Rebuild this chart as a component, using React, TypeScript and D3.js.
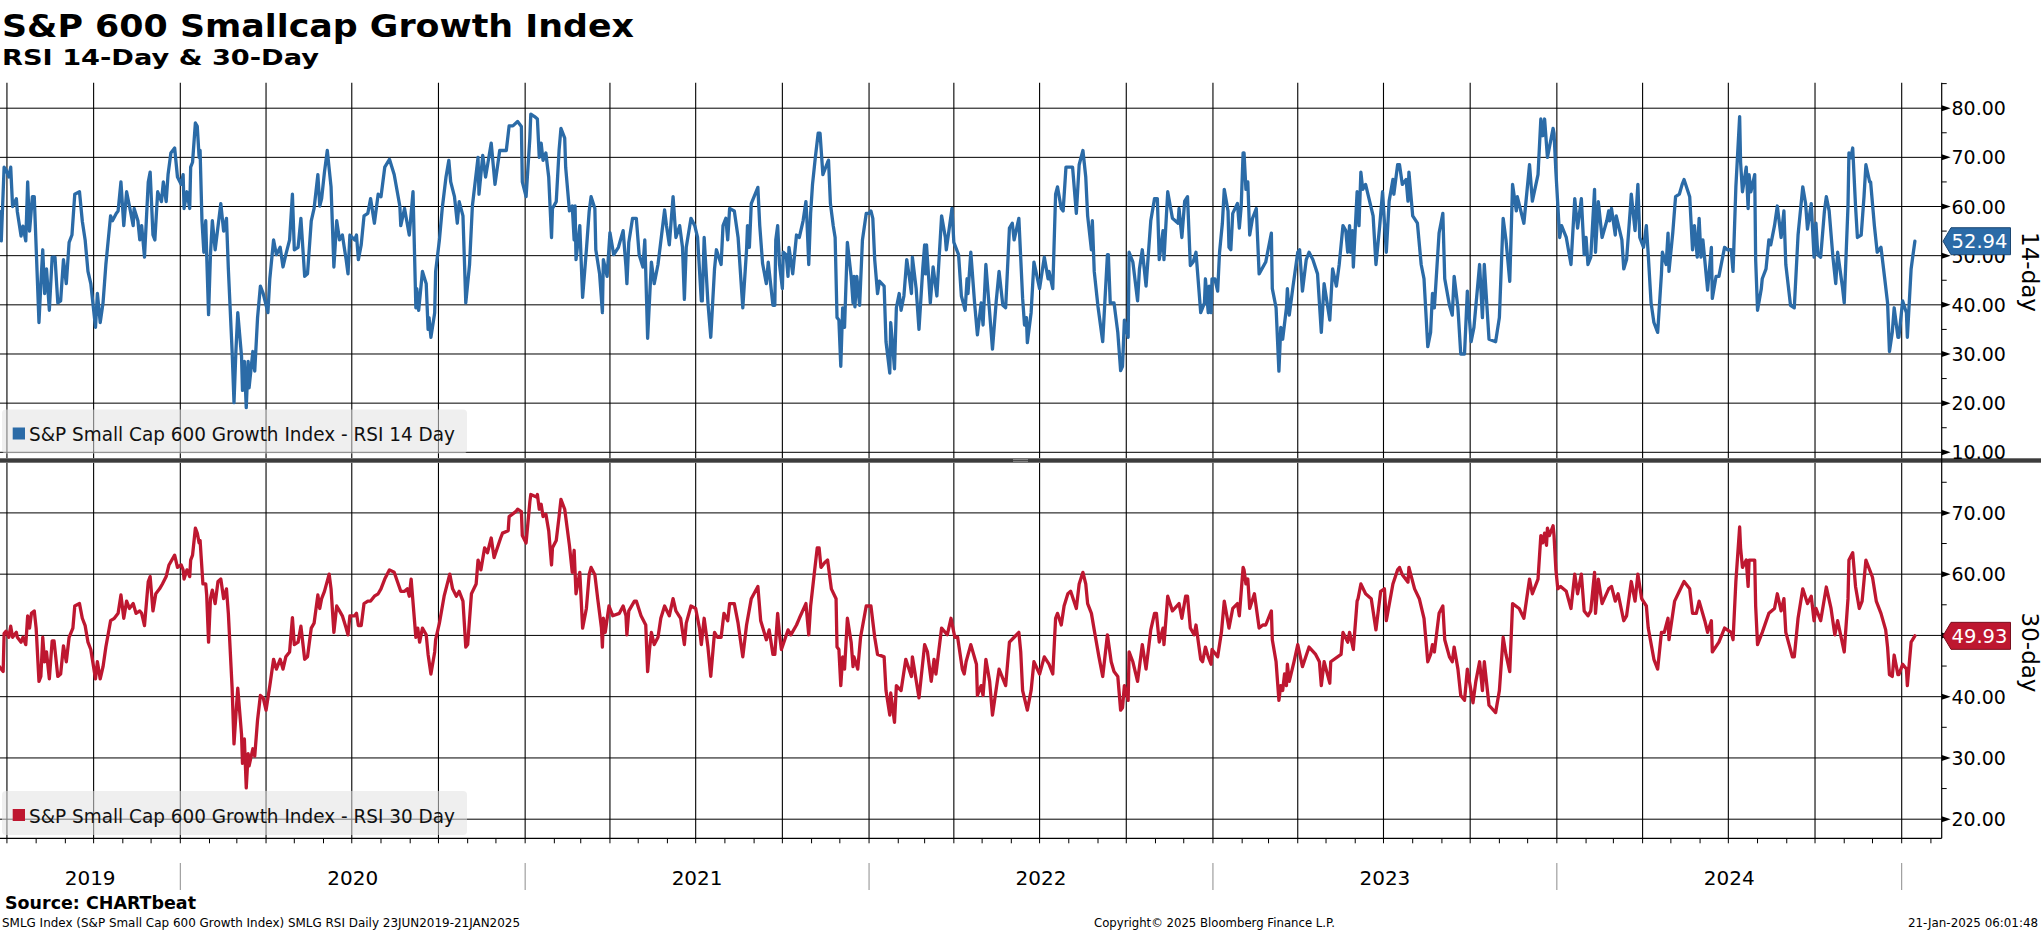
import React from 'react';
import * as d3 from 'd3';

// ---------- DATA (day offset from 23 Jun 2019, RSI value) ----------
const START = new Date(2019, 5, 23);

const rsi14: [number, number][] = [
  [0,59],[2,53],[5,68],[7,67.5],[10,66],[12,68],[14,60],[18,61.6],[19,59],[23,54],[25,56],[28,53],[30,65],[32,55],[35,62],[37,62],[42,36.4],[44,44.3],[46,51.2],[48,42.3],[50,47.3],[53,38.9],[56,49.7],[59,49.7],[62,40.4],[65,40.8],[68,49.2],[71,44.3],[74,52.7],[77,54.2],[80,62.5],[85,63],[88,57],[91,53.2],[94,46.8],[97,44.3],[102,35.4],[104,42.3],[107,36.4],[110,40.4],[113,48.2],[118,58.1],[120,57.1],[124,58.6],[126,59.1],[129,65],[132,56.1],[135,63],[138,60.1],[142,56.1],[143,59.6],[147,57.1],[149,53.2],[151,56.1],[154,49.7],[158,65],[160,67],[163,54.2],[165,53.2],[168,63],[172,61],[174,65],[177,61],[179,66.5],[182,70.9],[186,71.9],[189,66],[193,64.5],[195,66.5],[196,59.6],[199,63],[202,59.6],[203,68],[205,69],[208,77],[210,76.3],[212,70],[213,71.4],[215,57.1],[217,50.7],[219,57.1],[220,50.2],[222,38],[224,50.2],[226,57.1],[229,51.2],[235,60.6],[238,55],[241,57.6],[243,47.3],[247,30.5],[249,20.1],[251,30.5],[253,38.4],[257,29.5],[258,22.6],[260,28.5],[262,19.1],[264,28.5],[265,23.1],[269,30.5],[271,26.5],[274,37.4],[277,43.8],[280,42.3],[285,38.4],[287,45.3],[291,53.2],[294,50.2],[298,51.7],[301,47.7],[304,50.2],[308,53.2],[311,62.5],[313,51.2],[317,51.7],[320,57.6],[324,45.8],[327,46.3],[331,57.1],[334,59.6],[338,66.5],[340,60.1],[342,61.6],[345,67],[348,71.4],[352,64],[355,47.7],[358,57.1],[361,53.2],[364,54.2],[368,49.2],[370,46.3],[372,54.2],[377,53.2],[379,54.2],[381,49.2],[384,52.2],[387,58.1],[391,58.6],[394,61.6],[398,56.6],[402,62.5],[405,62],[409,68],[414,69.6],
  [419,66.5],[425,60.1],[426,56.1],[430,59.6],[435,54.2],[439,63],[442,39.4],[443,43.3],[445,38.9],[449,46.8],[453,44.3],[455,35],[456,37.4],[458,33.4],[462,38.4],[463,46.8],[467,53.2],[470,59.6],[474,66],[477,69.4],[479,65],[483,62],[486,56.6],[488,61],[492,58.1],[495,40.4],[499,48.2],[502,60.1],[508,70],[509,62.5],[513,70.4],[516,66],[522,72.9],[526,64.5],[531,71.4],[538,71.4],[541,76.4],[545,76.4],[550,77.3],[554,76.3],[555,65],[559,62],[563,73.9],[564,78.8],[568,78.3],[571,77.8],[573,70],[575,72.9],[577,69.4],[580,70.9],[583,66],[586,53.7],[587,59.6],[591,61],[594,71.4],[596,75.9],[600,73.9],[601,68],[605,59.1],[608,60.1],[610,53.2],[611,60.1],[612,49.2],[616,56.1],[619,41.5],[623,51.2],[626,59.1],[628,62],[632,59.6],[633,51.2],[637,46.3],[640,38.4],[641,49.2],[645,45.8],[648,54.7],[652,50.2],[657,51.7],[662,55.1],[665,47.7],[666,44.3],[668,52.7],[672,57.6],[676,57.6],[679,50.2],[683,47.7],[685,53.2],[686,46.8],[688,33.2],[692,48.7],[695,44.3],[699,48.2],[704,56.1],[706,59.3],[708,56.1],[711,52.2],[715,62],[718,53.7],[722,56.1],[725,51.7],[727,41.1],[729,51.7],[734,57.6],[738,56.1],[741,53.7],[745,40.8],[746,40.8],[748,53.7],[752,40.4],[755,33.4],[759,47.3],[761,51.2],[766,48.2],[768,56.1],[771,57.6],[773,53.2],[775,59.6],[780,59.1],[784,53.7],[789,39.4],[793,51.2],[794,56.1],[796,51.7],[798,60.6],[805,63.9],[807,56.1],[810,48.4],[814,44.3],[816,48.7],[821,39.9],[823,39.9],[824,53.2],[826,56.1],[828,48.2],
  [831,43.3],[832,50.7],[835,50.2],[837,45.8],[838,51.7],[842,46.3],[846,54.2],[849,53.7],[853,57.1],[856,61],[857,57.6],[859,48.2],[861,58.6],[863,64.5],[866,70],[869,74.9],[871,74.9],[874,66.5],[879,69],[880,69.4],[882,60.6],[885,56.1],[887,53.7],[889,37.4],[891,36.9],[893,27.5],[895,39.4],[897,35.4],[900,52.7],[904,45.8],[906,40.4],[907,45.8],[908,39.6],[910,45.8],[913,39.9],[916,53.2],[920,58.6],[923,58.6],[925,59.1],[927,57.6],[929,49.2],[932,42.3],[934,44.8],[939,43.8],[941,32.5],[945,26.1],[946,36.4],[950,27],[952,39.4],[955,42.3],[957,38.9],[960,41.8],[963,49.2],[966,45.3],[968,42.3],[969,49.7],[973,43.3],[976,35],[980,47.3],[982,52.2],[983,46.3],[984,52.2],[988,40.4],[991,47.7],[995,41.8],[1000,58.1],[1004,53.7],[1005,51.2],[1011,59.6],[1013,52.7],[1018,50.2],[1021,41.8],[1025,38.9],[1027,45.3],[1028,42.3],[1031,50.7],[1035,40.4],[1038,33.9],[1042,40.4],[1044,35.9],[1047,48.2],[1051,38.4],[1054,31],[1058,40.8],[1061,46.8],[1065,39.9],[1068,39.4],[1072,55.6],[1075,56.6],[1077,53.2],[1082,57.6],[1086,41.3],[1088,35.9],[1090,37.4],[1091,32.3],[1095,38.4],[1098,48.7],[1104,43.3],[1109,49.7],[1113,45.3],[1114,46.8],[1118,43.3],[1121,62.5],[1123,64],[1127,59.6],[1129,59.1],[1132,68],[1136,68],[1139,68],[1143,58.6],[1146,68.5],[1150,71.4],[1153,66],[1155,58.1],[1159,51.2],[1160,57.1],[1162,46.8],[1166,39.6],[1171,32.5],[1176,50.2],[1177,50.2],[1179,40.4],[1183,40.4],[1187,34.4],[1190,26.6],[1192,27.5],[1194,36.9],[1198,33.4],[1199,50.7],[1203,48.7],[1208,40.8],[1210,47.3],[1213,51.2],[1217,43.8],[1222,57.1],[1226,61.6],[1229,61.6],[1231,49.2],[1235,55.1],[1236,49.2],[1240,63],
  [1245,57.6],[1251,56.6],[1252,59.6],[1255,53.7],[1258,61.1],[1261,62],[1264,48],[1267,48.7],[1270,50.7],[1275,38.4],[1279,40.4],[1280,45.3],[1283,38.4],[1284,43.8],[1286,38.4],[1287,45.3],[1290,45.3],[1293,42.8],[1295,50.7],[1298,56.6],[1300,63.5],[1304,59.1],[1305,51.7],[1307,51.2],[1309,58.6],[1314,60.6],[1316,55.6],[1318,60.1],[1320,70.9],[1321,70.9],[1323,63.5],[1325,65],[1327,54.2],[1330,57.6],[1334,59.6],[1337,46.3],[1344,48.7],[1350,54.6],[1351,43.3],[1355,39.4],[1358,26.5],[1360,35.4],[1362,33],[1366,39.4],[1367,43.3],[1369,37.9],[1373,43.8],[1378,50.7],[1380,51.2],[1383,42.8],[1387,49.2],[1390,50.7],[1394,49.2],[1399,46.3],[1403,34.4],[1406,44.3],[1412,36.9],[1415,47.3],[1419,43.8],[1422,48.2],[1426,56.1],[1429,55.1],[1431,50.7],[1433,56.1],[1434,50.7],[1436,55.1],[1437,47.7],[1441,63],[1443,56.1],[1445,67],[1447,63.5],[1450,64.5],[1458,58.1],[1461,48.2],[1465,56.1],[1468,63],[1472,50.7],[1475,61.1],[1479,65.5],[1480,62.5],[1484,68.5],[1486,68.5],[1489,64.5],[1493,65.5],[1495,61.1],[1496,67],[1500,58.1],[1505,56.6],[1509,48.2],[1512,45.3],[1516,31.5],[1519,34.4],[1521,42.3],[1523,39.4],[1528,54.6],[1532,58.6],[1534,45.3],[1539,39.9],[1542,37.9],[1544,45.8],[1548,39.4],[1551,30],[1555,30],[1558,42.8],[1562,32.5],[1565,35.4],[1571,48.2],[1574,37.4],[1576,48.2],[1581,33],[1588,32.5],[1592,37.4],[1596,57.6],[1599,53.2],[1603,44.8],[1606,64.5],[1610,59.1],[1611,62],[1618,56.6],[1624,68.5],[1627,61.1],[1633,66.5],[1636,77.8],[1638,74.4],[1640,77.8],[1643,70],[1649,75.9],[1650,74.9],[1652,67],[1656,53.7],
  [1658,56.1],[1663,53.7],[1668,48.2],[1672,61.6],[1675,55.6],[1679,61.6],[1682,50.2],[1684,53.7],[1686,48.2],[1689,49.7],[1693,63.5],[1694,50.7],[1697,61],[1701,53.7],[1706,57.1],[1708,59.1],[1709,57.1],[1711,59.6],[1715,54.2],[1716,58.1],[1722,53.2],[1724,47.3],[1727,49.2],[1731,59.6],[1732,62.5],[1736,55.1],[1739,64.5],[1741,53.7],[1745,51.7],[1747,54.6],[1748,56.1],[1750,50.2],[1753,40.4],[1756,36.4],[1760,34.4],[1764,46.3],[1765,50.7],[1769,48.2],[1771,54.6],[1772,46.8],[1776,54.6],[1779,62],[1783,62.5],[1786,64.5],[1788,65.5],[1794,62],[1797,51.2],[1799,56.1],[1802,49.7],[1804,57.6],[1806,49.7],[1808,53.2],[1813,43],[1817,51.7],[1818,41.3],[1822,45.8],[1825,45.8],[1831,51.7],[1834,51.2],[1838,51.2],[1840,46.8],[1843,64],[1847,78.3],[1848,69],[1850,63],[1854,68],[1856,59.6],[1857,66.5],[1859,63],[1863,66.5],[1864,49.2],[1866,38.9],[1870,43.3],[1871,45.3],[1875,47.3],[1878,53.2],[1880,52.2],[1884,56.1],[1887,60.1],[1891,53.7],[1894,59.1],[1896,48.2],[1901,39.9],[1905,39.4],[1909,54.2],[1914,64],[1917,60.6],[1919,55.4],[1923,60.6],[1926,49.7],[1928,56.6],[1930,50.2],[1933,49.7],[1937,59.1],[1939,62],[1942,59.1],[1946,49.7],[1949,44.3],[1951,50.7],[1956,43.8],[1958,40.4],[1962,60.1],[1963,70.9],[1965,69.9],[1967,71.9],[1970,60.1],[1972,53.7],[1976,54.2],[1979,62],[1981,68.5],[1985,65],[1986,65],[1990,56.1],[1993,50.7],[1997,51.7],[2001,45.3],[2004,40.4],[2006,30.5],[2009,34.4],[2011,39.4],[2015,33.4],[2016,33.4],[2020,40.8],[2024,38.4],[2025,33.4],[2029,47.3],[2031,50.2],[2033,52.94],
];

const rsi30: [number, number][] = [
  [0,44.9],[4,44.1],[5,50.3],[7,50.7],[10,49.7],[12,51.5],[14,49.7],[18,50.5],[19,49.7],[23,48.9],[25,49.7],[28,48.5],[30,53.2],[32,51.2],[34,53.6],[37,54],[39,51.2],[42,42.5],[44,43.3],[46,49.7],[48,45.7],[50,47.3],[53,42.9],[56,49.1],[58,49.1],[62,43.3],[65,43.7],[68,48.3],[71,45.7],[74,49.7],[78,51.2],[80,54.8],[85,55.2],[88,52.8],[91,51.6],[94,48.9],[97,47.7],[102,42.9],[104,45.7],[107,42.9],[110,44.9],[113,48.1],[118,52.4],[122,52.8],[126,53.6],[129,56.6],[132,52.8],[135,55.6],[138,54.4],[142,55.2],[145,53.6],[149,54],[151,53.6],[154,51.6],[158,58.8],[160,59.6],[163,54],[166,56.8],[170,57.6],[173,58.4],[177,59.6],[180,61.5],[186,63.1],[189,61.1],[193,61.5],[195,60.7],[196,59.2],[199,60.7],[202,59.6],[203,62.3],[205,63.1],[208,67.5],[210,66.7],[212,65.1],[213,65.5],[216,58.4],[219,58.4],[220,56.6],[222,48.9],[224,56],[226,57.4],[229,55.2],[232,58.8],[235,59.2],[238,56],[241,57.6],[243,53.6],[247,41.4],[249,32.3],[251,37],[253,41.4],[257,33.8],[258,29.1],[260,33.1],[262,25.1],[264,30.7],[265,28.7],[269,31.5],[271,30.3],[274,36.2],[277,40.2],[280,39.8],[283,37.8],[287,41.8],[291,46.1],[294,44.5],[298,46.1],[301,44.5],[304,46.5],[308,47.3],[311,52.9],[313,48.5],[317,48.9],[320,51.5],[324,46.1],[327,46.5],[331,51.2],[334,52],[338,56.6],[340,54.4],[342,56],[345,57.2],[350,60],[352,57.6],[355,50.5],[358,54.8],[361,54],[364,53.2],[368,51.2],[370,50.1],[372,53.2],[377,53.2],[379,53.6],[381,51.6],[384,51.6],[387,55.2],[391,55.6],[394,55.6],[398,56.4],[402,56.8],[405,57.6],[409,59.2],[414,60.7],
  [419,60.3],[426,57.2],[430,57.2],[433,57.6],[435,56.4],[437,59.2],[442,49.7],[444,51.2],[446,48.9],[449,51.2],[453,50.1],[455,46.9],[458,43.7],[462,47.3],[463,49.3],[467,52],[472,56.4],[478,60],[481,57.6],[485,56.4],[488,57.2],[492,55.6],[495,48.1],[497,48.5],[501,56.8],[506,58.4],[508,62.3],[511,60.7],[515,64.3],[518,63.5],[522,65.9],[525,62.7],[532,65.9],[534,66.7],[540,67.1],[541,69.4],[548,70.2],[550,70.6],[554,70.2],[555,66.3],[559,65.1],[563,71.8],[564,73],[570,72.6],[571,73],[573,70.6],[575,71.4],[577,69.4],[580,69.8],[583,67.1],[586,61.5],[587,64.3],[591,65.5],[594,69.4],[596,72.2],[600,70.6],[605,64.7],[608,60.3],[610,63.9],[611,60.3],[612,56.8],[616,60.3],[619,51.2],[623,54.4],[626,60],[628,61.1],[632,59.9],[635,56],[639,51.2],[640,48.1],[641,52.8],[643,50.5],[647,54.8],[651,53.2],[658,53.6],[662,54.8],[665,53.2],[666,50.1],[668,54],[674,55.6],[676,55.6],[681,53.2],[686,51.7],[688,44.1],[690,47.7],[692,50.5],[695,48.5],[699,49.7],[702,52.8],[706,54.8],[711,53.2],[715,56],[718,54],[723,52.8],[727,48.5],[729,52],[734,54.8],[739,54.4],[743,51.2],[745,48.5],[748,52.8],[752,48.1],[755,43.3],[759,50.5],[762,49.7],[766,49.7],[769,53.6],[773,52.4],[775,55.2],[780,55.2],[784,52],[789,46.5],[793,51.7],[798,56],[805,58],[808,52.4],[814,49.3],[817,50.9],[821,46.9],[823,46.9],[826,53.6],[828,50.1],
  [830,47.7],[837,50.9],[840,50.1],[846,51.7],[849,52.8],[856,55.2],[859,50.1],[861,54.8],[865,60.3],[868,64.3],[870,64.3],[872,61.1],[876,61.9],[879,62.3],[883,57.6],[888,56],[889,48.1],[891,47.7],[893,41.8],[895,46.5],[897,44.5],[900,52.8],[904,48.9],[906,44.9],[907,46.5],[911,44.5],[914,49.7],[920,54.8],[925,54.8],[929,49.7],[932,46.9],[939,46.5],[941,41],[945,37],[946,40.6],[950,35.8],[952,41.8],[957,41],[962,46.1],[968,43.3],[969,46.5],[976,39.8],[982,48.5],[985,47.3],[989,42.5],[992,46.1],[994,43.7],[1000,51.2],[1006,50.1],[1010,52.8],[1014,49.7],[1017,49.7],[1022,44.5],[1024,43.7],[1026,45.7],[1031,48.5],[1037,45.3],[1038,40.2],[1042,41.8],[1044,40.2],[1047,46.1],[1051,42.5],[1054,37],[1058,41.3],[1061,44.5],[1068,41.8],[1072,48.9],[1077,49.7],[1082,50.5],[1084,47.3],[1086,41],[1091,37.8],[1095,41],[1098,45.7],[1104,43.7],[1109,46.5],[1114,45.3],[1118,43.7],[1121,52.8],[1123,53.6],[1127,51.7],[1130,54.8],[1134,56.8],[1137,57.2],[1143,54.4],[1146,58.4],[1150,60.3],[1153,58.4],[1155,55.2],[1159,53.6],[1162,50.9],[1167,46.5],[1171,43.3],[1176,50.1],[1180,45.7],[1183,44.1],[1187,43.3],[1190,37.8],[1192,38.2],[1194,41.8],[1198,39.4],[1199,47.3],[1203,45.7],[1208,42.5],[1213,48.5],[1217,44.5],[1222,50.9],[1226,53.6],[1228,53.6],[1231,48.9],[1235,51.2],[1236,48.5],[1240,56.4],
  [1245,54],[1252,55.2],[1255,52.8],[1259,56.4],[1261,56.4],[1264,51.2],[1268,50.1],[1270,51.7],[1275,46.1],[1277,45.7],[1280,48.1],[1283,46.5],[1286,45.3],[1287,47.7],[1293,46.5],[1297,50.5],[1300,55.6],[1305,51.2],[1309,54.4],[1314,55.2],[1316,53.2],[1320,61.1],[1321,60.7],[1323,58.4],[1325,59.2],[1327,54.4],[1332,56.8],[1337,51.2],[1341,51.7],[1344,51.7],[1350,54],[1351,49.3],[1355,45.7],[1358,39.4],[1360,41.8],[1362,41],[1364,43.7],[1366,41.8],[1367,45.3],[1369,42.5],[1374,45.7],[1378,48.5],[1383,44.9],[1390,48.1],[1397,46.9],[1401,45.7],[1403,41.8],[1406,45.7],[1412,42.2],[1413,45.7],[1424,46.9],[1426,50.5],[1431,48.9],[1433,50.5],[1437,47.7],[1441,55.6],[1442,56],[1445,58.4],[1450,56.8],[1456,56],[1461,50.9],[1466,57.2],[1470,57.6],[1472,52.4],[1479,58.4],[1484,60.7],[1486,61.1],[1489,59.9],[1495,58.7],[1496,61.1],[1502,57.6],[1507,56],[1512,52.8],[1516,45.7],[1519,46.9],[1521,48.5],[1523,47.3],[1528,53.6],[1532,54.8],[1534,49.3],[1539,46.5],[1542,45.7],[1544,48.1],[1548,44.5],[1551,40.2],[1555,39.4],[1558,44.5],[1564,39],[1567,42.5],[1571,45.7],[1574,41],[1576,45.7],[1581,38.6],[1588,37.4],[1592,41],[1596,49.7],[1599,46.9],[1603,44.1],[1606,55.2],[1613,54.4],[1618,52.8],[1624,59.2],[1627,56.8],[1633,59.2],[1636,66.3],[1638,65.1],[1640,66.7],[1642,64.7],[1643,67.5],[1645,66.3],[1649,67.9],[1650,66.3],[1652,60.7],[1654,57.6],
  [1657,58],[1663,57.2],[1668,54.4],[1672,60],[1675,56.8],[1679,60],[1682,54],[1686,53.2],[1689,54],[1693,60.3],[1694,53.6],[1697,59.2],[1701,55.2],[1708,57.6],[1711,58],[1715,55.6],[1718,56.8],[1724,52.4],[1727,53.2],[1732,58.8],[1736,55.6],[1739,60],[1743,56],[1748,54.8],[1750,51.2],[1756,46.1],[1760,44.5],[1764,50.5],[1767,50.5],[1771,52.8],[1772,49.3],[1778,55.6],[1783,57.2],[1788,58.8],[1794,57.6],[1797,53.6],[1801,53.6],[1804,55.6],[1810,52.4],[1813,50.5],[1817,52.4],[1818,47.3],[1825,48.9],[1831,51.2],[1838,50.5],[1840,49.3],[1843,58.8],[1847,67.7],[1848,64.3],[1850,61.1],[1854,62.3],[1856,58],[1857,62.3],[1863,62.3],[1864,54.8],[1866,48.5],[1871,50.5],[1878,53.6],[1884,54.4],[1887,56.8],[1891,54],[1894,56],[1896,50.5],[1903,46.5],[1905,46.5],[1909,52.8],[1914,57.6],[1919,55.2],[1923,56.4],[1926,52.4],[1928,54.4],[1933,52.4],[1939,57.9],[1944,54.4],[1948,50.1],[1951,52.4],[1958,47.3],[1962,56],[1963,62.3],[1967,63.5],[1970,58],[1974,54.4],[1977,55.6],[1981,62.3],[1985,60.7],[1988,59.5],[1992,55.6],[1997,53.6],[2002,50.9],[2004,48.1],[2006,43.6],[2009,43.3],[2011,46.8],[2015,43.6],[2016,43.6],[2020,45.3],[2024,44.5],[2025,41.8],[2029,48.9],[2033,49.93],
];

const topTicks = [80, 70, 60, 50, 40, 30, 20, 10];
const topMinor = [85, 75, 65, 55, 45, 35, 25, 15];
const bottomTicks = [70, 60, 50, 40, 30, 20];
const bottomMinor = [75, 65, 55, 45, 35, 25];
const years = [2019, 2020, 2021, 2022, 2023, 2024];
const last14 = 52.94;
const last30 = 49.93;

const TITLE = 'S&P 600 Smallcap Growth Index';
const SUBTITLE = 'RSI 14-Day & 30-Day';
const LEGEND14 = 'S&P Small Cap 600 Growth Index - RSI 14 Day';
const LEGEND30 = 'S&P Small Cap 600 Growth Index - RSI 30 Day';
const SOURCE = 'Source: CHARTbeat';
const FOOTNOTE = 'SMLG Index (S&P Small Cap 600 Growth Index) SMLG RSI  Daily 23JUN2019-21JAN2025';
const COPYRIGHT = 'Copyright\u00A9 2025 Bloomberg Finance L.P.';
const STAMP = '21-Jan-2025 06:01:48';

// ---------- LAYOUT ----------
const W = 2041, H = 932;
const AXIS_X = 1941.7;
const TOP_Y0 = 82.7, TOP_Y1 = 458.3;
const BOT_Y0 = 462.7, BOT_Y1 = 838.3;
const BLUE = '#2b6ba7';
const RED = '#be1730';
const FONT = '"DejaVu Sans", Verdana, sans-serif';

const x = d3.scaleTime()
  .domain([new Date(2020, 0, 1), new Date(2025, 0, 1)])
  .range([180.3, 1901.7]);
const yTop = d3.scaleLinear().domain([10, 80]).range([452.3, 108.2]);
const yBot = d3.scaleLinear().domain([20, 70]).range([819.2, 512.9]);
const dayDate = (d: number) => d3.timeDay.offset(START, d);

const lineTop = d3.line<[number, number]>().x(p => x(dayDate(p[0]))).y(p => yTop(p[1]));
const lineBot = d3.line<[number, number]>().x(p => x(dayDate(p[0]))).y(p => yBot(p[1]));

const quarters = d3.timeMonth.every(3)!.range(new Date(2019, 6, 1), new Date(2025, 1, 1));
const months = d3.timeMonth.range(new Date(2019, 6, 1), new Date(2025, 3, 1)).filter(d => x(d) <= AXIS_X);

function Badge({ y, value, color, stroke }: { y: number; value: number; color: string; stroke: string }) {
  const h = 13.5;
  const pts = [[1943, y], [1951, y - h], [2010.5, y - h], [2010.5, y + h], [1951, y + h]].map(p => p.join(',')).join(' ');
  return (
    <g>
      <polygon points={pts} fill={color} stroke={stroke} strokeWidth={1} />
      <text x={1979.5} y={y + 7} fill="#fff" fontSize={19.5} textAnchor="middle" fontFamily={FONT}>{value.toFixed(2)}</text>
    </g>
  );
}

function Legend({ y, label, color }: { y: number; label: string; color: string }) {
  return (
    <g>
      <rect x={2} y={y} width={465} height={44} rx={4} fill="#e2e2e2" fillOpacity={0.55} />
      <rect x={12.7} y={y + 18} width={12.3} height={12} fill={color} />
      <text x={29} y={y + 31.5} fontSize={19} fontFamily={FONT} fill="#111" textLength={426} lengthAdjust="spacingAndGlyphs">{label}</text>
    </g>
  );
}

export default function App() {
  const yearBounds = years.map(yr => {
    const a = Math.max(0, x(new Date(yr, 0, 1)));
    const b = Math.min(AXIS_X, x(new Date(yr + 1, 0, 1)));
    return { yr, cx: (a + b) / 2 };
  });
  const dividers = d3.range(2020, 2026).map(yr => x(new Date(yr, 0, 1)));

  return (
    <div style={{ position: 'absolute', left: 0, top: 0 }}>
      <svg width={W} height={H} style={{ display: 'block', background: '#fff' }}>
        <defs>
          <clipPath id="clipTop"><rect x={0} y={TOP_Y0} width={AXIS_X} height={TOP_Y1 - TOP_Y0} /></clipPath>
          <clipPath id="clipBot"><rect x={0} y={BOT_Y0} width={AXIS_X} height={BOT_Y1 - BOT_Y0} /></clipPath>
        </defs>

        {/* Titles */}
        <text x={2} y={37} fontSize={32} fontWeight="bold" fontFamily={FONT} fill="#000" textLength={632} lengthAdjust="spacingAndGlyphs">{TITLE}</text>
        <text x={2} y={65} fontSize={21} fontWeight="bold" fontFamily={FONT} fill="#000" textLength={317} lengthAdjust="spacingAndGlyphs">{SUBTITLE}</text>

        {/* Gridlines top */}
        {topTicks.map(t => <line key={'ht' + t} x1={0} x2={AXIS_X} y1={yTop(t)} y2={yTop(t)} stroke="#000" strokeWidth={1} />)}
        {quarters.map((d, i) => <line key={'vt' + i} x1={x(d)} x2={x(d)} y1={TOP_Y0} y2={TOP_Y1} stroke="#000" strokeWidth={1.1} />)}
        {/* Gridlines bottom */}
        {bottomTicks.map(t => <line key={'hb' + t} x1={0} x2={AXIS_X} y1={yBot(t)} y2={yBot(t)} stroke="#000" strokeWidth={1} />)}
        {quarters.map((d, i) => <line key={'vb' + i} x1={x(d)} x2={x(d)} y1={BOT_Y0} y2={BOT_Y1} stroke="#000" strokeWidth={1.1} />)}

        {/* Series lines */}
        <g clipPath="url(#clipTop)">
          <path d={lineTop(rsi14) || ''} fill="none" stroke={BLUE} strokeWidth={3.3} strokeLinejoin="round" strokeLinecap="round" />
        </g>
        <g clipPath="url(#clipBot)">
          <path d={lineBot(rsi30) || ''} fill="none" stroke={RED} strokeWidth={3.3} strokeLinejoin="round" strokeLinecap="round" />
        </g>

        {/* Legends */}
        <Legend y={409.5} label={LEGEND14} color={BLUE} />
        <Legend y={791} label={LEGEND30} color={RED} />

        {/* Separator */}
        <rect x={0} y={TOP_Y1} width={W} height={BOT_Y0 - TOP_Y1} fill="#3c3c3c" />
        <line x1={1013} x2={1028} y1={459.6} y2={459.6} stroke="#9a9a9a" strokeWidth={0.8} />
        <line x1={1013} x2={1028} y1={461.4} y2={461.4} stroke="#9a9a9a" strokeWidth={0.8} />

        {/* Right axis */}
        <line x1={AXIS_X} x2={AXIS_X} y1={TOP_Y0} y2={BOT_Y1} stroke="#000" strokeWidth={1.2} />
        {topMinor.map(t => <line key={'mt' + t} x1={AXIS_X} x2={AXIS_X + 5} y1={yTop(t)} y2={yTop(t)} stroke="#000" strokeWidth={1} />)}
        {bottomMinor.map(t => <line key={'mb' + t} x1={AXIS_X} x2={AXIS_X + 5} y1={yBot(t)} y2={yBot(t)} stroke="#000" strokeWidth={1} />)}
        {topTicks.map(t => (
          <g key={'lt' + t}>
            <polygon points={`${AXIS_X},${yTop(t) - 3} ${AXIS_X + 9},${yTop(t)} ${AXIS_X},${yTop(t) + 3}`} fill="#000" />
            <text x={1951.5} y={yTop(t) + 7} fontSize={19} fontFamily={FONT} fill="#000">{t.toFixed(2)}</text>
          </g>
        ))}
        {bottomTicks.map(t => (
          <g key={'lb' + t}>
            <polygon points={`${AXIS_X},${yBot(t) - 3} ${AXIS_X + 9},${yBot(t)} ${AXIS_X},${yBot(t) + 3}`} fill="#000" />
            <text x={1951.5} y={yBot(t) + 7} fontSize={19} fontFamily={FONT} fill="#000">{t.toFixed(2)}</text>
          </g>
        ))}

        {/* Last value badges */}
        <Badge y={yTop(last14)} value={last14} color={BLUE} stroke="#1c4773" />
        <Badge y={yBot(last30)} value={last30} color={RED} stroke="#7a0f1f" />

        {/* Side labels */}
        <text transform={`translate(2021.5,${272}) rotate(90)`} fontSize={23} fontFamily={FONT} textAnchor="middle" fill="#000">14-day</text>
        <text transform={`translate(2021.5,${652.5}) rotate(90)`} fontSize={23} fontFamily={FONT} textAnchor="middle" fill="#000">30-day</text>

        {/* Bottom time axis */}
        <line x1={0} x2={AXIS_X} y1={BOT_Y1} y2={BOT_Y1} stroke="#000" strokeWidth={1.2} />
        {months.map((d, i) => <line key={'mo' + i} x1={x(d)} x2={x(d)} y1={BOT_Y1} y2={BOT_Y1 + 5} stroke="#000" strokeWidth={1} />)}
        {dividers.map((dx, i) => <line key={'dv' + i} x1={dx} x2={dx} y1={863} y2={890} stroke="#8c8c8c" strokeWidth={1} />)}
        {yearBounds.map(({ yr, cx }) => (
          <text key={'yr' + yr} x={cx} y={885} fontSize={20} fontFamily={FONT} textAnchor="middle" fill="#000">{yr}</text>
        ))}

        {/* Footer */}
        <text x={5} y={909} fontSize={18} fontWeight="bold" fontFamily={FONT} fill="#000" textLength={191} lengthAdjust="spacingAndGlyphs">{SOURCE}</text>
        <text x={2} y={927} fontSize={12} fontFamily={FONT} fill="#000" textLength={518} lengthAdjust="spacingAndGlyphs">{FOOTNOTE}</text>
        <text x={1094} y={927} fontSize={12} fontFamily={FONT} fill="#000" textLength={241} lengthAdjust="spacingAndGlyphs">{COPYRIGHT}</text>
        <text x={1908} y={927} fontSize={12} fontFamily={FONT} fill="#000" textLength={130} lengthAdjust="spacingAndGlyphs">{STAMP}</text>
      </svg>
    </div>
  );
}
